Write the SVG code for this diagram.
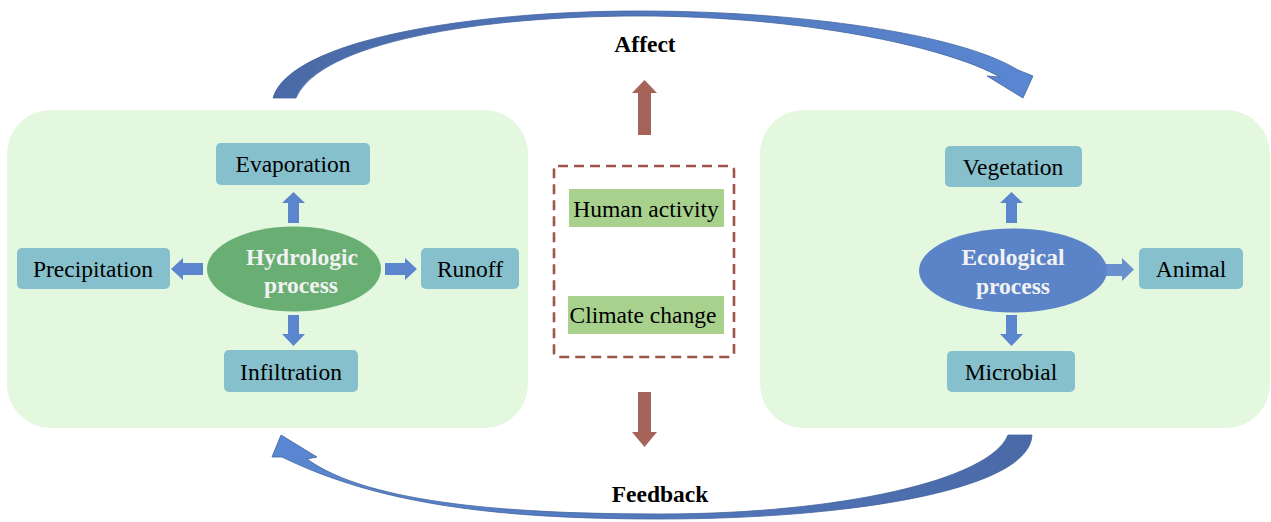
<svg xmlns="http://www.w3.org/2000/svg" width="1271" height="522" viewBox="0 0 1271 522">
<defs>
<linearGradient id="gTop" x1="270" y1="0" x2="1035" y2="0" gradientUnits="userSpaceOnUse">
<stop offset="0" stop-color="#4A69A6"/><stop offset="1" stop-color="#5A87D2"/>
</linearGradient>
<linearGradient id="gBot" x1="1032" y1="0" x2="270" y2="0" gradientUnits="userSpaceOnUse">
<stop offset="0" stop-color="#4A69A6"/><stop offset="1" stop-color="#5A87D2"/>
</linearGradient>
<style>
.panel{fill:#E4F7DF}
.box{fill:#86C0CC}
.lbl{font-family:"Liberation Serif","Times New Roman",serif;font-size:23.5px;fill:#000;text-anchor:middle}
.elbl{font-family:"Liberation Serif","Times New Roman",serif;font-size:23.5px;font-weight:bold;fill:#F2F2F2;text-anchor:middle}
.title{font-family:"Liberation Serif","Times New Roman",serif;font-size:23.5px;font-weight:bold;fill:#000;text-anchor:middle}
.sa{fill:#5B85CC}
.ba{fill:#A6635A}
.gbox{fill:#A9D18E}
</style>
</defs>
<rect width="1271" height="522" fill="#FFFFFF"/>

<g id="panel-hydrologic"><rect class="panel" x="7" y="110" width="521" height="318" rx="44"/></g>
<g id="panel-ecological"><rect class="panel" x="760" y="110" width="510" height="318" rx="44"/></g>

<g id="connectors">
<path d="M273,98 C290,40 470,11 640,11 C800,11 960,34 1018,70 L1033,76 L1023,98 L987,76 L1000,77 C945,46 800,16 640,16 C480,16 320,42 296,98 Z" fill="url(#gTop)" stroke="#44649E" stroke-width="0.8"/>
<path d="M1032,435 C1030,490 850,519 660,519 C500,519 380,505 282,457 L272,457 L281,435 L317,457 L307,459 C370,505 520,514 660,514 C840,514 990,480 1008,435 Z" fill="url(#gBot)" stroke="#44649E" stroke-width="0.8"/>
<polygon class="sa" points="288,223 288,203 282,203 293.5,192 305,203 299,203 299,223"/>
<polygon class="sa" points="288,315 288,334 282,334 293.5,346 305,334 299,334 299,315"/>
<polygon class="sa" points="203,263 183,263 183,258 171,269 183,280 183,275 203,275"/>
<polygon class="sa" points="385,263 405,263 405,258 417,269 405,280 405,275 385,275"/>
<polygon class="sa" points="1006,223 1006,203 1000,203 1011.5,192 1023,203 1017,203 1017,223"/>
<polygon class="sa" points="1006,315 1006,334 1000,334 1011.5,346 1023,334 1017,334 1017,315"/>
<polygon class="ba" points="638,135 638,93 632,93 644.5,80 657,93 651,93 651,135"/>
<polygon class="ba" points="638,392 638,432 632,432 644.5,447 657,432 651,432 651,392"/>
</g>

<g id="node-evaporation"><rect class="box" x="216" y="143" width="154" height="42" rx="5"/><text class="lbl" x="293" y="172">Evaporation</text></g>
<g id="node-precipitation"><rect class="box" x="17" y="248" width="153" height="41" rx="5"/><text class="lbl" x="93" y="277">Precipitation</text></g>
<g id="node-runoff"><rect class="box" x="421" y="248" width="98" height="41" rx="5"/><text class="lbl" x="470" y="277">Runoff</text></g>
<g id="node-infiltration"><rect class="box" x="224" y="350" width="134" height="42" rx="5"/><text class="lbl" x="291" y="380">Infiltration</text></g>
<g id="node-hydrologic"><ellipse cx="294" cy="269" rx="87" ry="42.5" fill="#69AF74"/><text class="elbl" x="302" y="265">Hydrologic</text><text class="elbl" x="301" y="293">process</text></g>

<g id="node-vegetation"><rect class="box" x="945" y="146" width="137" height="41" rx="5"/><text class="lbl" x="1013" y="175">Vegetation</text></g>
<g id="node-animal"><rect class="box" x="1139" y="248" width="104" height="41" rx="5"/><text class="lbl" x="1191" y="277">Animal</text></g>
<g id="node-microbial"><rect class="box" x="947" y="351" width="128" height="41" rx="5"/><text class="lbl" x="1011" y="380">Microbial</text></g>
<g id="node-ecological"><ellipse cx="1013" cy="270.5" rx="94" ry="42" fill="#5B83C8"/><text class="elbl" x="1013" y="265">Ecological</text><text class="elbl" x="1013" y="294">process</text></g>
<g id="arrow-animal"><polygon class="sa" points="1103,264 1122,264 1122,258 1134,269.5 1122,281 1122,276 1103,276" opacity="0.9"/></g>

<g id="node-drivers"><rect x="554" y="166" width="180" height="191" rx="4" fill="none" stroke="#A0554B" stroke-width="2.6" stroke-dasharray="10,6"/></g>
<g id="node-human"><rect class="gbox" x="569" y="189" width="155" height="38"/><text class="lbl" x="646" y="217">Human activity</text></g>
<g id="node-climate"><rect class="gbox" x="568" y="296" width="156" height="38"/><text class="lbl" x="643" y="323">Climate change</text></g>

<g id="label-affect"><text class="title" x="645" y="52">Affect</text></g>
<g id="label-feedback"><text class="title" x="660" y="502">Feedback</text></g>
</svg>
